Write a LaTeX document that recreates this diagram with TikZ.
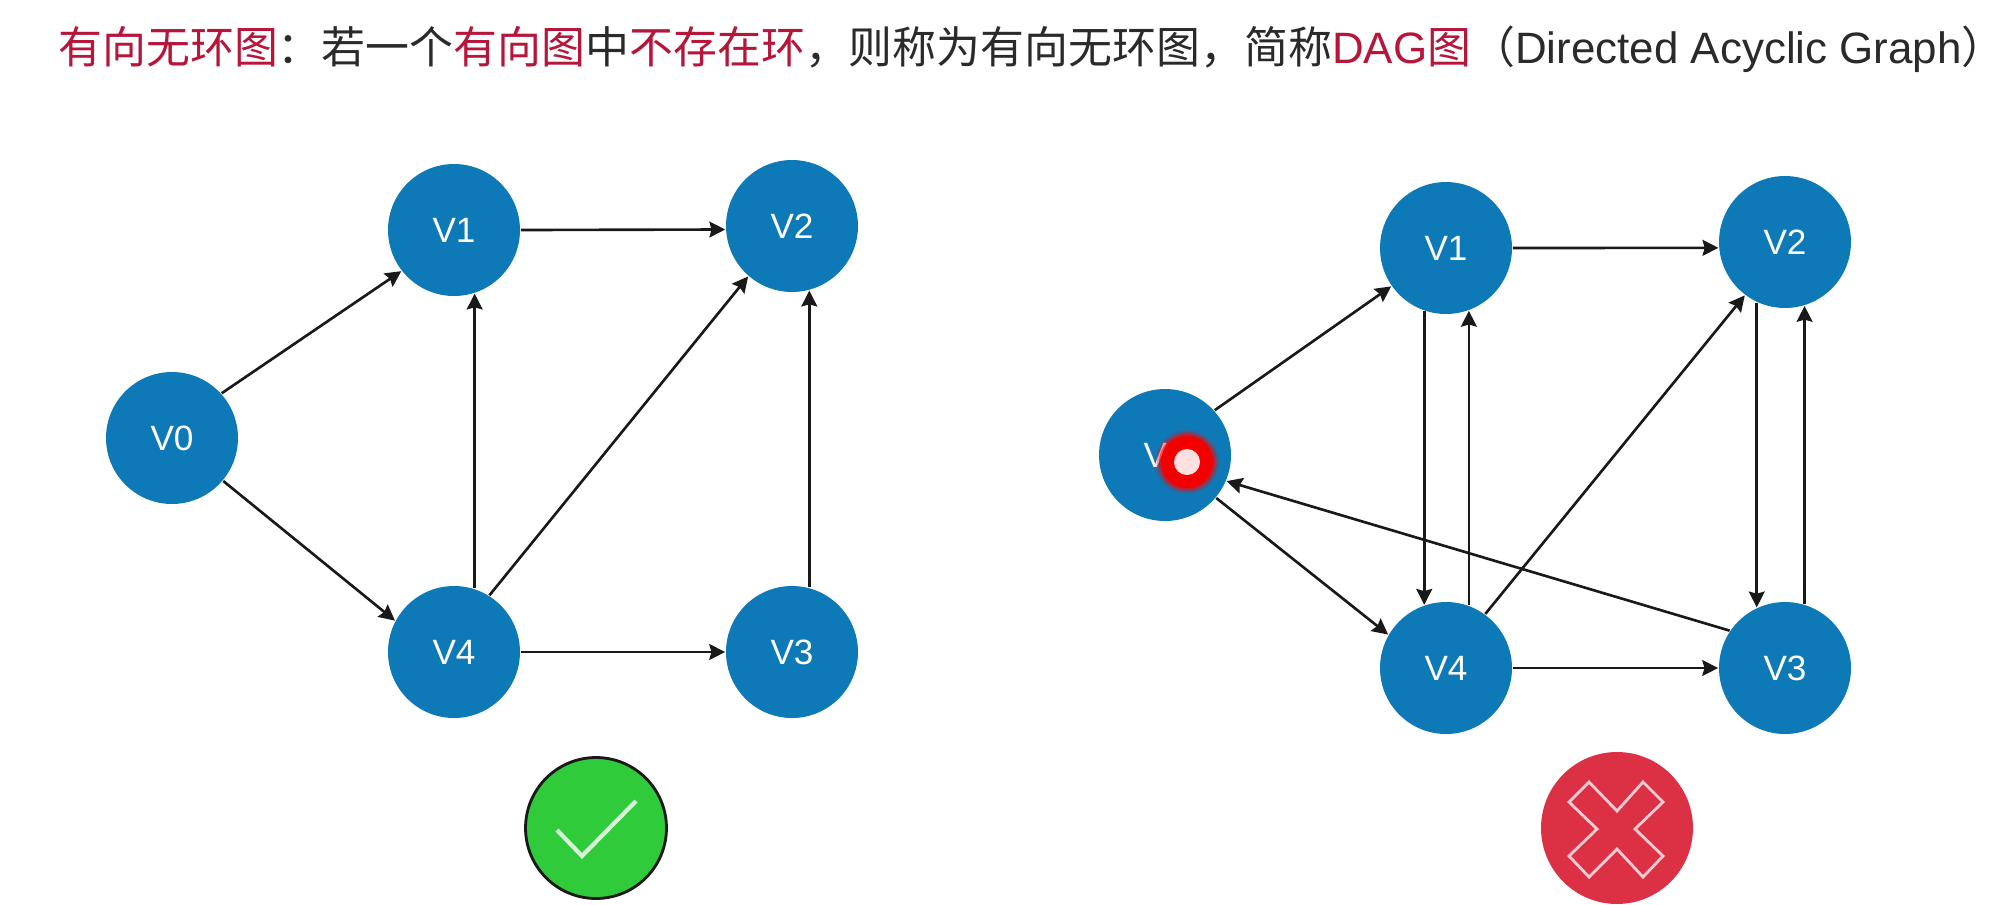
\documentclass[tikz,border=0pt]{standalone}
\usepackage{fontspec}
\usepackage{xcolor}
\usetikzlibrary{arrows.meta}
\setmainfont{Liberation Sans}
\newfontfamily\cjk{Noto Sans CJK SC}
\definecolor{nodeblue}{HTML}{0E79B7}
\definecolor{titlered}{HTML}{B5163A}
\definecolor{titlegray}{HTML}{2A2A2A}
\definecolor{okgreen}{HTML}{2FCB3A}
\definecolor{badred}{HTML}{DC3045}
\newcommand{\hl}[1]{\textcolor{titlered}{#1}}
\tikzset{
    vertex/.style={circle, fill=nodeblue, text=white, minimum size=2.64cm, inner sep=0pt, outer sep=0.5pt,
        font=\fontsize{20}{24}\selectfont},
    edgeline/.style={line width=1.5pt, color=black!90, -{Stealth[length=9pt, width=9pt, inset=1.2pt]}}
}

\begin{document}
\begin{tikzpicture}[x=0.02cm, y=-0.02cm]
    \useasboundingbox[fill=white] (0,0) rectangle (2012,904);

    % Title
    \node[anchor=west, inner sep=0pt, text=titlegray, font=\fontsize{25}{30}\selectfont\cjk] (title) at (58,49)
        {\hl{有向无环图}：若一个\hl{有向图}中\hl{不存在环}，则称为有向无环图，简称\hl{{\rmfamily DAG}图}（{\rmfamily Directed Acyclic Graph}）};

    % Left graph
    \foreach \name/\x/\y in {0/172/438, 1/454/230, 2/792/226, 3/792/652, 4/454/652}
        \node[vertex] (l\name) at (\x,\y) {V\name};
    \foreach \a/\b in {l0.42/l1.218, l0.320/l4.152, l1.0/l2.183.5, l4.72/l1.288, l4.58/l2.229, l4.0/l3.180, l3.75/l2.285}
        \draw[edgeline] (\a) -- (\b);

    % Right graph
    \foreach \name/\x/\y in {0/1165/455, 1/1446/248, 2/1785/242, 3/1785/668, 4/1446/668}
        \node[vertex] (r\name) at (\x,\y) {V\name};
    \foreach \a/\b in {r0.42/r1.215, r0.320/r4.150, r1.0/r2.185, r1.251/r4.109, r4.70/r1.290, r4.54/r2.233,
                       r2.245/r3.115, r3.73/r2.287, r4.0/r3.180, r3.146/r0.337}
        \draw[edgeline] (\a) -- (\b);

    % Mouse pointer on V0
    \foreach \rad/\op in {32/0.15, 30/0.3, 28/0.5}
        \fill[red, opacity=\op] (1187,462) circle (\rad);
    \fill[red!95!black] (1187,462) circle (26);
    \node[circle, fill=red!12, minimum size=0.52cm, inner sep=0pt] (pointer) at (1187,462) {};

    % Check mark
    \node[circle, fill=okgreen, draw=black!90, line width=1.6pt, minimum size=2.82cm] (okmark) at (596,828) {};
    \draw[white!80!okgreen, line width=2.4pt] (557,830) -- (582,856) -- (636,801);

    % Cross mark
    \node[circle, fill=badred, minimum size=3.04cm] (badmark) at (1617,828) {};
    \draw[white!75!badred, line width=1.6pt] (1589,782) -- (1569,802) -- (1597,829) -- (1569,856) -- (1589,877)
        -- (1617,849) -- (1643,877) -- (1663,856) -- (1635,829) -- (1663,802) -- (1643,782) -- (1617,811) -- cycle;
\end{tikzpicture}
\end{document}
